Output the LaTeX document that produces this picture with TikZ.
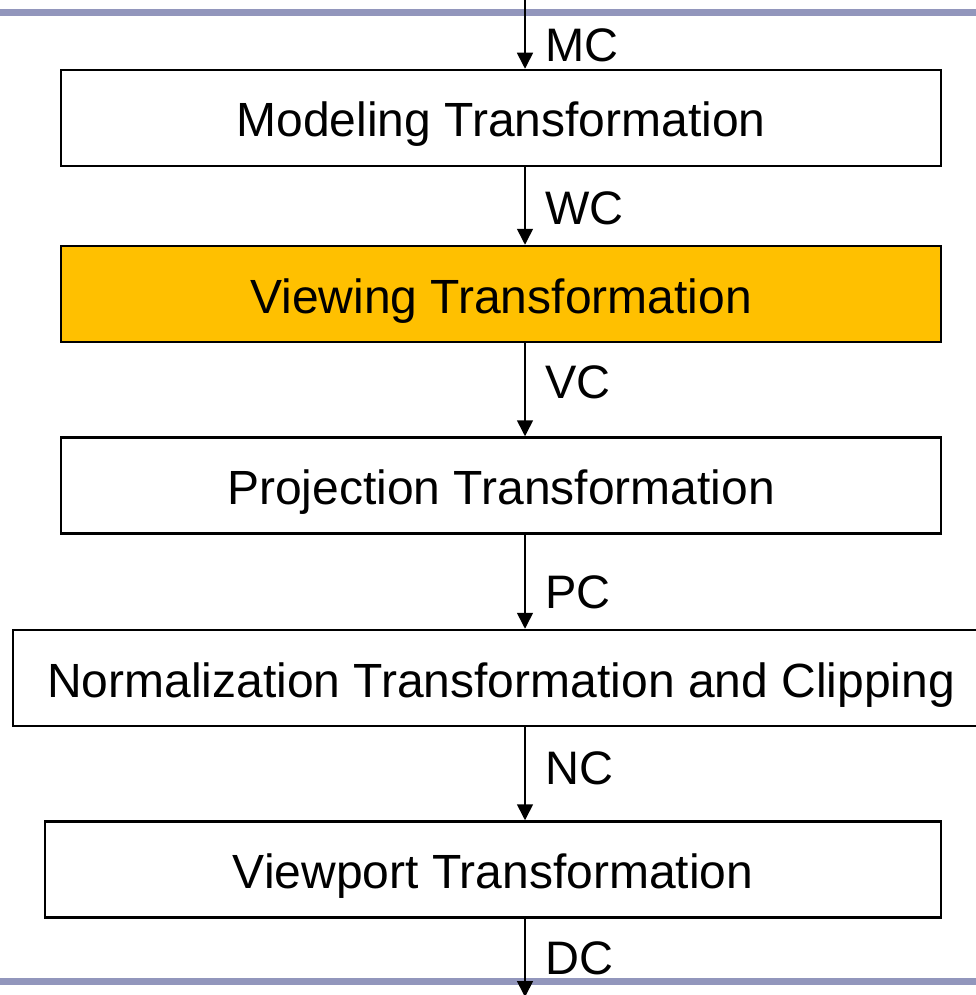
\documentclass[tikz,border=0pt]{standalone}
\usepackage{fontspec}
\setmainfont{Liberation Sans}
\usetikzlibrary{arrows.meta}
\definecolor{barblue}{RGB}{146,150,188}
\definecolor{stageorange}{RGB}{255,192,0}
\tikzset{
  stagebox/.style={draw=black, line width=2.5pt, rectangle, inner sep=0pt,
    minimum height=96pt, text height=38pt, text depth=0pt,
    font=\fontsize{48}{57}\selectfont},
  flow/.style={draw=black, line width=1.6pt, -{Triangle[width=16pt,length=16pt]}},
  coordlabel/.style={anchor=west, inner sep=0pt, font=\fontsize{47}{56}\selectfont},
  rule/.style={draw=barblue, line width=6.5pt}
}
\begin{document}
\begin{tikzpicture}[x=1pt, y=-1pt]
  \useasboundingbox (0,0) rectangle (976,995);

  % horizontal rules framing the pipeline
  \draw[rule] (0,12.5) -- (976,12.5);
  \draw[rule] (0,981.5) -- (976,981.5);

  % pipeline stages
  \node[stagebox, minimum width=880pt] (model) at (501,118) {Modeling Transformation};
  \node[stagebox, minimum width=880pt, fill=stageorange] (view) at (501,294) {Viewing Transformation};
  \node[stagebox, minimum width=880pt] (proj) at (501,485.5) {Projection Transformation};
  \node[stagebox, minimum width=976pt] (norm) at (501,678) {Normalization Transformation and Clipping};
  \node[stagebox, minimum width=896pt] (port) at (493,869.5) {Viewport Transformation};

  % entry and exit points of the flow
  \coordinate (entry) at (525,0);
  \coordinate (exit) at (525,997);

  % connectors
  \draw[flow] (entry) -- (model.north -| entry);
  \draw[flow] (model.south -| entry) -- (view.north -| entry);
  \draw[flow] (view.south -| entry) -- (proj.north -| entry);
  \draw[flow] (proj.south -| entry) -- (norm.north -| entry);
  \draw[flow] (norm.south -| entry) -- (port.north -| entry);
  \draw[flow] (port.south -| entry) -- (exit);

  % coordinate-system labels
  \node[coordlabel] (lmc) at (545,45) {MC};
  \node[coordlabel] (lwc) at (545,208) {WC};
  \node[coordlabel] (lvc) at (545,382) {VC};
  \node[coordlabel] (lpc) at (545,592) {PC};
  \node[coordlabel] (lnc) at (545,768) {NC};
  \node[coordlabel] (ldc) at (545,958) {DC};
\end{tikzpicture}
\end{document}
